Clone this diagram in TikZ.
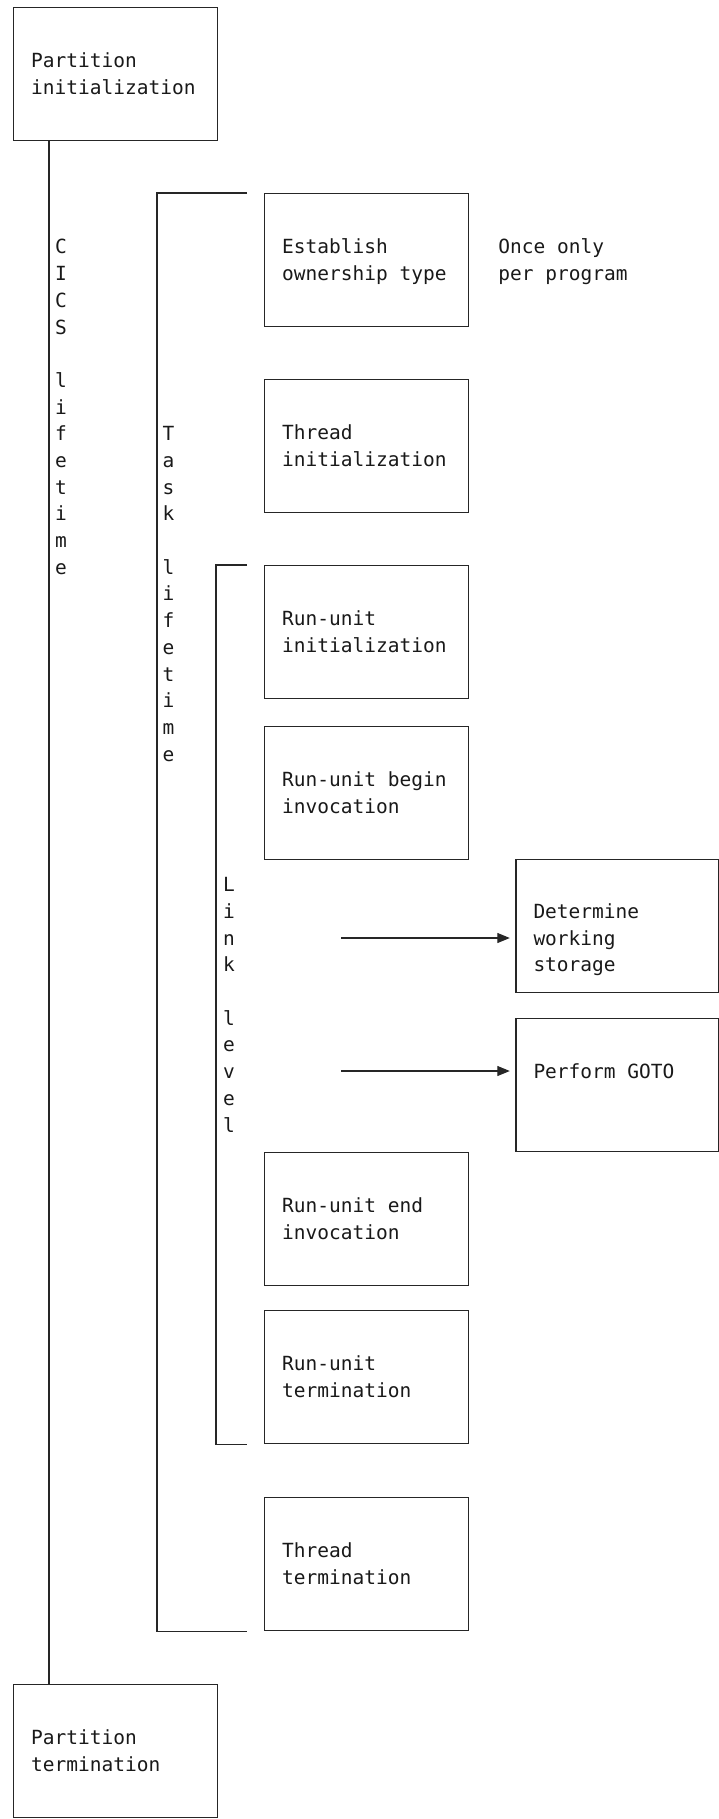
\documentclass[tikz,border=0pt]{standalone}
\usepackage{fontspec}
\newfontfamily\monof{DejaVu Sans Mono}
\usetikzlibrary{arrows.meta,calc}
\newcommand{\tleft}[1]{\begin{tabular}[t]{@{}l@{}}#1\end{tabular}}
\newcommand{\tcent}[1]{\begin{tabular}[t]{@{}c@{}}#1\end{tabular}}
\begin{document}
\begin{tikzpicture}[x=1pt,y=-1pt,
  ln/.style={draw=black!85, line width=1.2pt},
  box/.style={ln, rectangle, minimum width=204pt, minimum height=133pt, inner sep=0pt, anchor=north west},
  rbox/.style={box, minimum width=203pt},
  txt/.style={font=\monof\fontsize{19.5}{26.7}\selectfont, inner sep=0pt, anchor=base west, text=black!90},
  vtxt/.style={txt, anchor=base},
  arr/.style={ln, -{Triangle[length=12.5pt,width=10pt]}, shorten >=5.5pt}
  ]
\useasboundingbox (0,0) rectangle (719,1819);
% boxes
\node[box] (pi) at (13,7) {};
\node[box] (eo) at (264,193) {};
\node[box] (ti) at (264,379) {};
\node[box] (rui) at (264,565) {};
\node[box] (rub) at (264,725.5) {};
\node[rbox] (det) at (515.3,859) {};
\node[rbox] (gto) at (515.3,1018) {};
\node[box] (rue) at (264,1152) {};
\node[box] (rut) at (264,1310) {};
\node[box] (tt) at (264,1497) {};
\node[box] (pt) at (13,1683.5) {};
% box texts
\node[txt] (tpi) at ($(pi.north west)+(18,60.8)$) {\tleft{Partition\\initialization}};
\node[txt] (teo) at ($(eo.north west)+(18,60.8)$) {\tleft{Establish\\ownership type}};
\node[txt] (tonce) at ($(eo.north east)+(29,60.8)$) {\tleft{Once only\\per program}};
\node[txt] (tti) at ($(ti.north west)+(18,60.8)$) {\tleft{Thread\\initialization}};
\node[txt] (trui) at ($(rui.north west)+(18,60.8)$) {\tleft{Run-unit\\initialization}};
\node[txt] (trub) at ($(rub.north west)+(18,60.8)$) {\tleft{Run-unit begin\\invocation}};
\node[txt] (tdet) at ($(det.north west)+(18,59.5)$) {\tleft{Determine\\working\\storage}};
\node[txt] (tgto) at ($(gto.north west)+(18,60.8)$) {Perform GOTO};
\node[txt] (true) at ($(rue.north west)+(18,60.8)$) {\tleft{Run-unit end\\invocation}};
\node[txt] (trut) at ($(rut.north west)+(18,60.8)$) {\tleft{Run-unit\\termination}};
\node[txt] (ttt) at ($(tt.north west)+(18,60.8)$) {\tleft{Thread\\termination}};
\node[txt] (tpt) at ($(pt.north west)+(18,60.8)$) {\tleft{Partition\\termination}};
% CICS lifetime line
\coordinate (c1) at ($(pi.south west)+(36,0)$);
\coordinate (c2) at ($(pt.north west)+(36,0)$);
\draw[ln] (c1) -- (c2);
\node[vtxt] (tcics) at (61,254) {\tcent{C\\I\\C\\S\\ \\l\\i\\f\\e\\t\\i\\m\\e}};
% Task lifetime bracket
\coordinate (k1) at ($(eo.north west)+(-17,0)$);
\coordinate (k2) at ($(tt.south west)+(-17,0)$);
\draw[ln] (k1) -- ++(-90,0) |- (k2);
\node[vtxt] (ttask) at (168.5,440.7) {\tcent{T\\a\\s\\k\\ \\l\\i\\f\\e\\t\\i\\m\\e}};
% Link level bracket
\coordinate (l1) at ($(rui.north west)+(-17,0)$);
\coordinate (l2) at ($(rut.south west)+(-17,0)$);
\draw[ln] (l1) -- ++(-31,0) |- (l2);
\node[vtxt] (tlink) at (229,891.7) {\tcent{L\\i\\n\\k\\ \\l\\e\\v\\e\\l}};
% arrows
\coordinate (a1) at (341,938);
\coordinate (a2) at (341,1071);
\draw[arr] (a1) -- (a1 -| det.west);
\draw[arr] (a2) -- (a2 -| gto.west);
\end{tikzpicture}
\end{document}
